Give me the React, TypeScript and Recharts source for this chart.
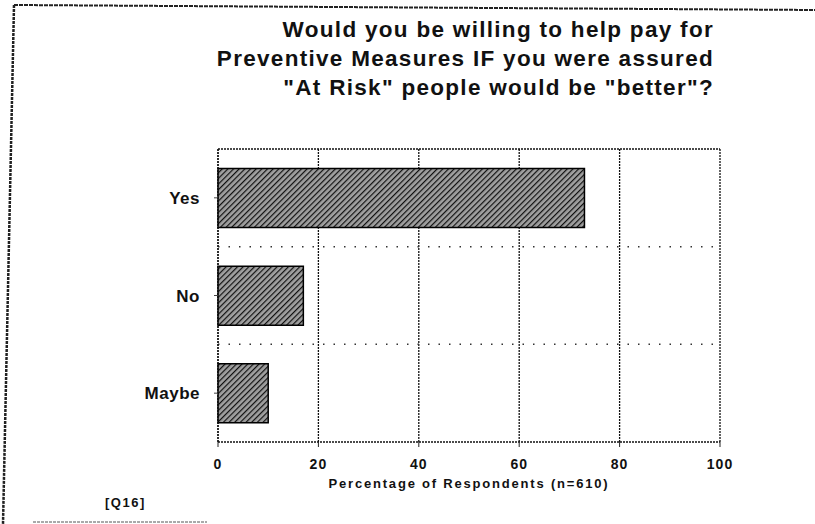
import React from 'react';
import { BarChart, Bar, XAxis, YAxis, CartesianGrid, Label } from 'recharts';

const categories = ['Yes', 'No', 'Maybe'];
const percentages = [73, 17, 10];
const xTicks = [0, 20, 40, 60, 80, 100];
const titleLines = [
  'Would you be willing to help pay for',
  'Preventive Measures IF you were assured',
  '"At Risk" people would be "better"?',
];
const xAxisTitle = 'Percentage of Respondents (n=610)';
const footnote = '[Q16]';

const data = categories.map((c, i) => ({ category: c, value: percentages[i] }));

const FONT = '"Liberation Sans", Arial, Helvetica, sans-serif';

const bandBoundaries = (props: any) => {
  const o = props && props.offset ? props.offset : { top: 0, height: 0 };
  const n = categories.length;
  const out: number[] = [];
  for (let i = 1; i < n; i++) out.push(o.top + (o.height * i) / n);
  return out;
};
const topEdge = (props: any) => {
  const o = props && props.offset ? props.offset : { top: 0 };
  return [o.top];
};

export default function App() {
  return (
    <div style={{ position: 'absolute', left: 0, top: 0, width: 815, height: 524, background: '#fff' }}>
      <BarChart
        width={815}
        height={524}
        data={data}
        layout="vertical"
        margin={{ top: 149, right: 95, bottom: 0, left: 0 }}
        barCategoryGap="20%"
      >
        <defs>
          <pattern id="hatch" width="4" height="4" patternUnits="userSpaceOnUse" patternTransform="rotate(45)">
            <rect width="4" height="4" fill="#a0a0a0" />
            <line x1="0" y1="0" x2="0" y2="4" stroke="#111" strokeWidth="2.4" />
          </pattern>
        </defs>
        <CartesianGrid horizontal={false} stroke="#111" strokeWidth={1.3} strokeDasharray="2 1" />
        <CartesianGrid vertical={false} stroke="#333" strokeWidth={1.5} strokeDasharray="1.5 9" horizontalCoordinatesGenerator={bandBoundaries} />
        <CartesianGrid vertical={false} stroke="#111" strokeWidth={1.3} strokeDasharray="2 1" horizontalCoordinatesGenerator={topEdge} />
        <XAxis
          type="number"
          domain={[0, 100]}
          ticks={xTicks}
          height={82}
          tickSize={5}
          tickMargin={12}
          axisLine={{ stroke: '#111', strokeWidth: 1.3, strokeDasharray: '2 1' }}
          tickLine={{ stroke: '#222' }}
          tick={{ fontFamily: FONT, fontSize: 14, fontWeight: 'bold', fill: '#111', letterSpacing: 1 }}
        >
          <Label
            value={xAxisTitle}
            position="insideBottom"
            offset={36}
            style={{ fontFamily: FONT, fontSize: 13, fontWeight: 'bold', fill: '#111', letterSpacing: 1.8 }}
          />
        </XAxis>
        <YAxis
          type="category"
          dataKey="category"
          width={218}
          tickSize={4}
          tickMargin={14}
          axisLine={{ stroke: '#111', strokeWidth: 1.3, strokeDasharray: '2 1' }}
          tickLine={{ stroke: '#444' }}
          tick={{ fontFamily: FONT, fontSize: 17, fontWeight: 'bold', fill: '#111', letterSpacing: 0.5 }}
        />
        <Bar dataKey="value" fill="url(#hatch)" stroke="#000" strokeWidth={1.5} isAnimationActive={false} />
      </BarChart>
      <svg
        width={815}
        height={524}
        style={{ position: 'absolute', left: 0, top: 0, pointerEvents: 'none' }}
      >
        <line x1={14} y1={5} x2={815} y2={10} stroke="#222" strokeWidth={2} strokeDasharray="4 1" />
        <line x1={14} y1={5} x2={3} y2={524} stroke="#222" strokeWidth={2.5} strokeDasharray="3 1" />
        <line x1={33} y1={522} x2={207} y2={522} stroke="#555" strokeWidth={1} strokeDasharray="3 1" />
        {titleLines.map((t, i) => (
          <text
            key={i}
            x={714}
            y={37 + i * 29}
            textAnchor="end"
            style={{ fontFamily: FONT, fontSize: 22.5, fontWeight: 'bold', fill: '#111', letterSpacing: 1.3 }}
          >
            {t}
          </text>
        ))}
        <text x={105} y={507} style={{ fontFamily: FONT, fontSize: 13, fontWeight: 'bold', fill: '#111', letterSpacing: 1.5 }}>
          {footnote}
        </text>
      </svg>
    </div>
  );
}
